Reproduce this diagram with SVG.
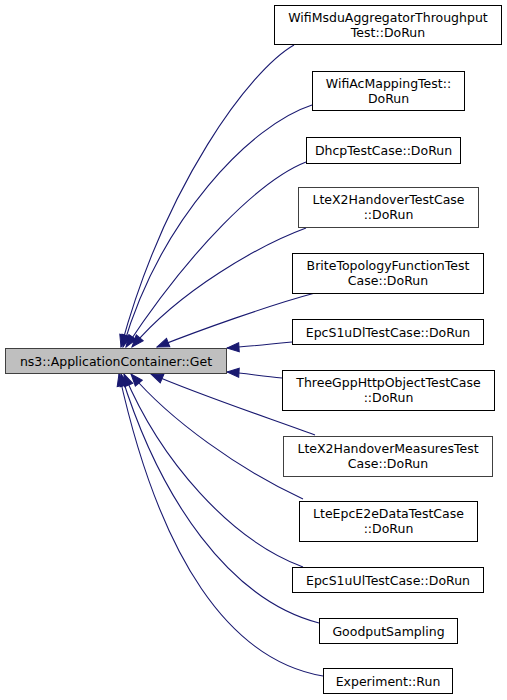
<svg xmlns="http://www.w3.org/2000/svg" width="507" height="700" viewBox="0 0 507 700">
<style>
.n rect{fill:#ffffff;stroke:#000000;stroke-width:1}
.n text{font-family:"DejaVu Sans",sans-serif;font-size:12.5px;text-anchor:middle;fill:#000000}
.m rect{fill:#bfbfbf;stroke:#404040}
.g rect{stroke:#404040}
.e path{fill:none;stroke:#191970;stroke-width:1.1;marker-end:url(#ah)}
</style>
<defs>
<marker id="ah" markerUnits="userSpaceOnUse" markerWidth="14" markerHeight="11" refX="12" refY="4.5" orient="auto" viewBox="-1 -1 14 11">
<path d="M0,0 L12,4.5 L0,9 z" fill="#191970" stroke="#191970" stroke-width="1"/>
</marker>
</defs>
<rect width="507" height="700" fill="#ffffff"/>
<g class="e" id="edges">
<path d="M294,45 C250,70 165,185 121,347"/>
<path d="M312,105 C250,125 160,220 123,347"/>
<path d="M306,162 C260,180 190,250 126,347"/>
<path d="M306,228 C260,245 180,290 132,347"/>
<path d="M315,293 C270,305 200,330 157,347"/>
<path d="M292,342 C262,345 242,347 227,348"/>
<path d="M282,378 C260,376 244,373 227,372"/>
<path d="M315,435 C260,415 200,395 151,374"/>
<path d="M303,499 C240,470 170,420 131,374"/>
<path d="M303,567 C230,540 160,460 124,374"/>
<path d="M319,623 C230,600 160,500 121,374"/>
<path d="M323,676 C230,660 160,560 119,374"/>
</g>
<g class="n m" id="main"><rect x="5.5" y="348.5" width="221" height="25"/><text x="116" y="365.5">ns3::ApplicationContainer::Get</text></g>
<g class="n" id="n1"><rect x="274.5" y="5.5" width="227" height="39"/><text x="388" y="21.5">WifiMsduAggregatorThroughput</text><text x="388" y="36.5">Test::DoRun</text></g>
<g class="n" id="n2"><rect x="312.5" y="71.5" width="152" height="39"/><text x="388.5" y="87.5">WifiAcMappingTest::</text><text x="388.5" y="102.5">DoRun</text></g>
<g class="n" id="n3"><rect x="306.5" y="137.5" width="154" height="26"/><text x="383.5" y="155">DhcpTestCase::DoRun</text></g>
<g class="n g" id="n4"><rect x="298.5" y="187.5" width="180" height="40"/><text x="388.5" y="203.5">LteX2HandoverTestCase</text><text x="388.5" y="218.5">::DoRun</text></g>
<g class="n" id="n5"><rect x="292.5" y="253.5" width="191" height="40"/><text x="388" y="269.5">BriteTopologyFunctionTest</text><text x="388" y="284.5">Case::DoRun</text></g>
<g class="n" id="n6"><rect x="292.5" y="319.5" width="191" height="25"/><text x="388" y="336.5">EpcS1uDlTestCase::DoRun</text></g>
<g class="n" id="n7"><rect x="282.5" y="370.5" width="212" height="40"/><text x="388.5" y="386.5">ThreeGppHttpObjectTestCase</text><text x="388.5" y="401.5">::DoRun</text></g>
<g class="n g" id="n8"><rect x="283.5" y="436.5" width="209" height="40"/><text x="388" y="452.5">LteX2HandoverMeasuresTest</text><text x="388" y="467.5">Case::DoRun</text></g>
<g class="n" id="n9"><rect x="299.5" y="501.5" width="178" height="40"/><text x="388.5" y="517.5">LteEpcE2eDataTestCase</text><text x="388.5" y="532.5">::DoRun</text></g>
<g class="n" id="n10"><rect x="292.5" y="567.5" width="191" height="25"/><text x="388" y="584.5">EpcS1uUlTestCase::DoRun</text></g>
<g class="n" id="n11"><rect x="319.5" y="618.5" width="138" height="25"/><text x="388.5" y="635.5">GoodputSampling</text></g>
<g class="n" id="n12"><rect x="323.5" y="668.5" width="129" height="25"/><text x="388" y="685.5">Experiment::Run</text></g>
</svg>
